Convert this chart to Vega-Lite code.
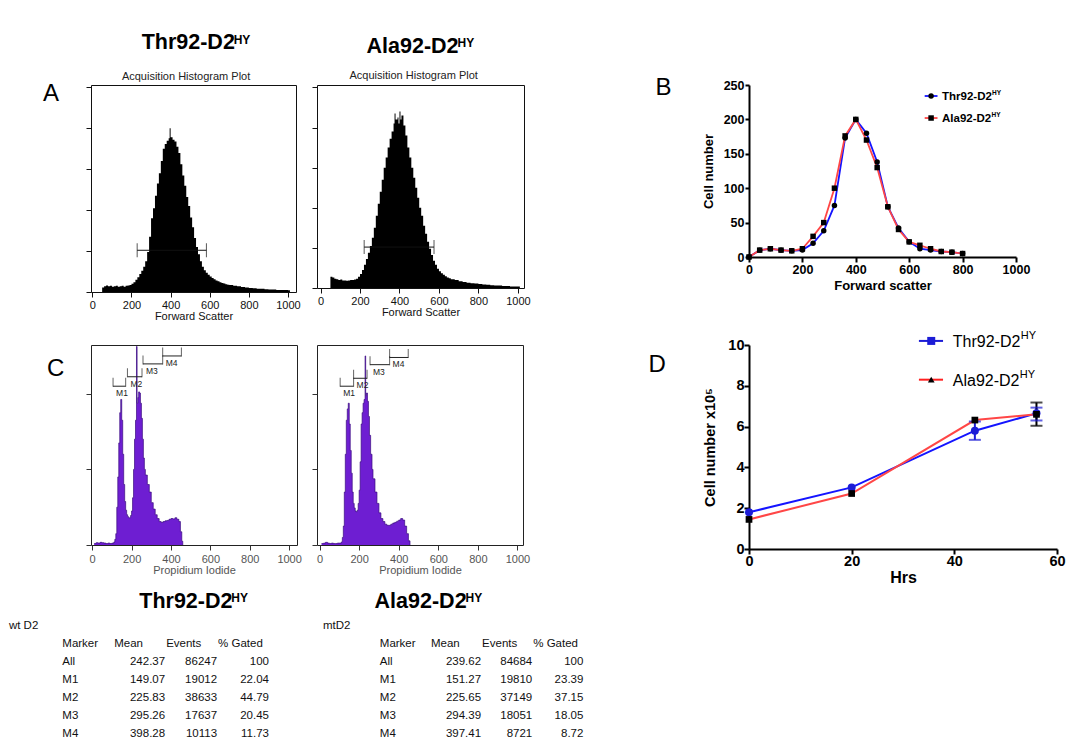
{
  "$schema": "https://vega.github.io/schema/vega-lite/v6.json",
  "background": "white",
  "padding": {"left": 8, "top": 31, "right": 0, "bottom": 0},
  "config": {
    "view": {"stroke": null},
    "font": "Liberation Sans",
    "axis": {"grid": false, "labelOverlap": false}
  },
  "datasets": {
    "hA1": [
      {"x":50,"n":0.11},{"x":60,"n":0.14},{"x":70,"n":0.16},{"x":80,"n":0.14},{"x":90,"n":0.15},{"x":100,"n":0.13},{"x":110,"n":0.14},{"x":120,"n":0.15},{"x":130,"n":0.13},{"x":140,"n":0.14},{"x":150,"n":0.15},{"x":160,"n":0.13},{"x":170,"n":0.15},{"x":180,"n":0.16},{"x":190,"n":0.17},{"x":200,"n":0.2},{"x":210,"n":0.24},{"x":220,"n":0.3},{"x":230,"n":0.36},{"x":240,"n":0.44},{"x":250,"n":0.52},{"x":260,"n":0.62},{"x":270,"n":0.75},{"x":280,"n":0.98},{"x":290,"n":1.35},{"x":300,"n":1.8},{"x":310,"n":2.05},{"x":320,"n":2.35},{"x":330,"n":2.65},{"x":340,"n":2.9},{"x":350,"n":3.2},{"x":360,"n":3.5},{"x":370,"n":3.62},{"x":380,"n":3.7},{"x":390,"n":3.76},{"x":395,"n":4.0},{"x":400,"n":3.78},{"x":410,"n":3.72},{"x":420,"n":3.68},{"x":430,"n":3.55},{"x":440,"n":3.4},{"x":450,"n":3.12},{"x":460,"n":2.85},{"x":470,"n":2.6},{"x":480,"n":2.32},{"x":490,"n":2.1},{"x":500,"n":1.82},{"x":510,"n":1.58},{"x":520,"n":1.32},{"x":530,"n":1.1},{"x":540,"n":0.92},{"x":550,"n":0.75},{"x":560,"n":0.62},{"x":570,"n":0.53},{"x":580,"n":0.47},{"x":590,"n":0.42},{"x":600,"n":0.38},{"x":610,"n":0.34},{"x":620,"n":0.31},{"x":630,"n":0.28},{"x":640,"n":0.26},{"x":650,"n":0.24},{"x":660,"n":0.22},{"x":670,"n":0.21},{"x":680,"n":0.19},{"x":690,"n":0.18},{"x":700,"n":0.17},{"x":720,"n":0.15},{"x":740,"n":0.14},{"x":760,"n":0.12},{"x":780,"n":0.11},{"x":800,"n":0.1},{"x":820,"n":0.09},{"x":840,"n":0.08},{"x":860,"n":0.08},{"x":880,"n":0.07},{"x":900,"n":0.06},{"x":920,"n":0.06},{"x":940,"n":0.05},{"x":960,"n":0.05},{"x":980,"n":0.05},{"x":1000,"n":0.04},{"x":1010,"n":0}
    ],
    "hA2": [
      {"x":50,"n":0.28},{"x":60,"n":0.26},{"x":70,"n":0.23},{"x":80,"n":0.22},{"x":90,"n":0.2},{"x":100,"n":0.21},{"x":110,"n":0.19},{"x":120,"n":0.19},{"x":130,"n":0.18},{"x":140,"n":0.19},{"x":150,"n":0.2},{"x":160,"n":0.2},{"x":170,"n":0.21},{"x":180,"n":0.23},{"x":190,"n":0.28},{"x":200,"n":0.35},{"x":210,"n":0.45},{"x":220,"n":0.58},{"x":230,"n":0.72},{"x":240,"n":0.88},{"x":250,"n":1.05},{"x":260,"n":1.25},{"x":270,"n":1.5},{"x":280,"n":1.8},{"x":290,"n":2.1},{"x":300,"n":2.4},{"x":310,"n":2.7},{"x":320,"n":3.0},{"x":330,"n":3.25},{"x":340,"n":3.5},{"x":350,"n":3.72},{"x":360,"n":3.9},{"x":370,"n":4.1},{"x":375,"n":4.35},{"x":380,"n":4.2},{"x":390,"n":4.25},{"x":395,"n":4.1},{"x":400,"n":4.4},{"x":405,"n":4.2},{"x":410,"n":4.3},{"x":420,"n":4.05},{"x":430,"n":3.8},{"x":440,"n":3.5},{"x":450,"n":3.25},{"x":460,"n":3.0},{"x":470,"n":2.75},{"x":480,"n":2.5},{"x":490,"n":2.25},{"x":500,"n":2.0},{"x":510,"n":1.8},{"x":520,"n":1.55},{"x":530,"n":1.35},{"x":540,"n":1.15},{"x":550,"n":0.98},{"x":560,"n":0.82},{"x":570,"n":0.68},{"x":580,"n":0.58},{"x":590,"n":0.48},{"x":600,"n":0.42},{"x":610,"n":0.37},{"x":620,"n":0.33},{"x":630,"n":0.29},{"x":640,"n":0.26},{"x":650,"n":0.24},{"x":660,"n":0.22},{"x":680,"n":0.2},{"x":700,"n":0.17},{"x":720,"n":0.15},{"x":740,"n":0.13},{"x":760,"n":0.12},{"x":780,"n":0.11},{"x":800,"n":0.1},{"x":820,"n":0.09},{"x":840,"n":0.08},{"x":860,"n":0.07},{"x":880,"n":0.06},{"x":900,"n":0.06},{"x":920,"n":0.05},{"x":940,"n":0.05},{"x":960,"n":0.04},{"x":980,"n":0.04},{"x":1000,"n":0.04},{"x":1010,"n":0}
    ],
    "hC1": [
      {"x":10,"n":0.04},{"x":20,"n":0.06},{"x":30,"n":0.05},{"x":40,"n":0.07},{"x":50,"n":0.06},{"x":60,"n":0.05},{"x":70,"n":0.04},{"x":80,"n":0.05},{"x":90,"n":0.04},{"x":100,"n":0.05},{"x":110,"n":0.08},{"x":115,"n":0.15},{"x":120,"n":0.3},{"x":125,"n":1.0},{"x":130,"n":1.8},{"x":135,"n":2.7},{"x":140,"n":3.5},{"x":145,"n":3.85},{"x":150,"n":3.3},{"x":155,"n":2.4},{"x":160,"n":1.6},{"x":165,"n":1.15},{"x":170,"n":0.92},{"x":175,"n":0.8},{"x":180,"n":0.75},{"x":185,"n":0.72},{"x":190,"n":0.72},{"x":195,"n":0.78},{"x":200,"n":0.9},{"x":205,"n":1.25},{"x":210,"n":2.0},{"x":215,"n":2.8},{"x":220,"n":3.3},{"x":225,"n":5.25},{"x":228,"n":3.75},{"x":232,"n":3.9},{"x":236,"n":4.05},{"x":240,"n":4.02},{"x":245,"n":3.75},{"x":250,"n":3.35},{"x":255,"n":2.8},{"x":260,"n":2.3},{"x":265,"n":2.0},{"x":270,"n":1.85},{"x":280,"n":1.6},{"x":290,"n":1.4},{"x":300,"n":1.12},{"x":310,"n":0.95},{"x":320,"n":0.8},{"x":330,"n":0.7},{"x":340,"n":0.62},{"x":350,"n":0.6},{"x":360,"n":0.62},{"x":370,"n":0.64},{"x":380,"n":0.65},{"x":390,"n":0.68},{"x":400,"n":0.7},{"x":410,"n":0.69},{"x":420,"n":0.72},{"x":430,"n":0.68},{"x":440,"n":0.62},{"x":448,"n":0.35},{"x":455,"n":0.1},{"x":460,"n":0}
    ],
    "hC2": [
      {"x":10,"n":0.04},{"x":20,"n":0.05},{"x":30,"n":0.07},{"x":40,"n":0.05},{"x":50,"n":0.04},{"x":60,"n":0.05},{"x":70,"n":0.04},{"x":80,"n":0.04},{"x":90,"n":0.05},{"x":100,"n":0.05},{"x":110,"n":0.08},{"x":115,"n":0.2},{"x":120,"n":0.5},{"x":125,"n":1.4},{"x":130,"n":2.4},{"x":135,"n":3.3},{"x":140,"n":3.6},{"x":145,"n":3.75},{"x":150,"n":3.2},{"x":155,"n":2.5},{"x":160,"n":1.9},{"x":165,"n":1.4},{"x":170,"n":1.1},{"x":175,"n":0.98},{"x":180,"n":0.9},{"x":185,"n":0.88},{"x":190,"n":0.92},{"x":195,"n":1.1},{"x":200,"n":1.45},{"x":205,"n":2.2},{"x":210,"n":3.2},{"x":215,"n":3.5},{"x":220,"n":3.75},{"x":225,"n":3.85},{"x":230,"n":5.0},{"x":233,"n":3.95},{"x":237,"n":4.02},{"x":242,"n":3.8},{"x":247,"n":3.4},{"x":252,"n":2.9},{"x":258,"n":2.4},{"x":265,"n":2.0},{"x":270,"n":1.75},{"x":280,"n":1.4},{"x":290,"n":1.1},{"x":300,"n":0.85},{"x":310,"n":0.7},{"x":320,"n":0.62},{"x":330,"n":0.55},{"x":340,"n":0.52},{"x":350,"n":0.52},{"x":360,"n":0.55},{"x":370,"n":0.58},{"x":380,"n":0.6},{"x":390,"n":0.63},{"x":400,"n":0.66},{"x":410,"n":0.7},{"x":420,"n":0.66},{"x":430,"n":0.5},{"x":440,"n":0.3},{"x":449,"n":0.11},{"x":457,"n":0}
    ],
    "gA1": [{"lo":229,"hi":583,"lvl":1.02}],
    "gA2": [{"lo":221,"hi":575,"lvl":1.02}],
    "gC1": [
      {"m":"M1","lo":106,"hi":170,"lvl":4.2},{"m":"M2","lo":179,"hi":253,"lvl":4.45},{"m":"M3","lo":258,"hi":358,"lvl":4.79},{"m":"M4","lo":358,"hi":453,"lvl":5.0}
    ],
    "gC2": [
      {"m":"M1","lo":104,"hi":172,"lvl":4.2},{"m":"M2","lo":172,"hi":240,"lvl":4.41},{"m":"M3","lo":255,"hi":354,"lvl":4.77},{"m":"M4","lo":354,"hi":448,"lvl":4.96}
    ],
    "fsc": [
      {"s":"Thr92-D2HY","x":0,"n":0},{"s":"Thr92-D2HY","x":40,"n":10},{"s":"Thr92-D2HY","x":80,"n":12},{"s":"Thr92-D2HY","x":120,"n":10},{"s":"Thr92-D2HY","x":160,"n":9},{"s":"Thr92-D2HY","x":200,"n":10},{"s":"Thr92-D2HY","x":240,"n":20},{"s":"Thr92-D2HY","x":280,"n":38},{"s":"Thr92-D2HY","x":320,"n":75},{"s":"Thr92-D2HY","x":360,"n":173},{"s":"Thr92-D2HY","x":400,"n":200},{"s":"Thr92-D2HY","x":440,"n":180},{"s":"Thr92-D2HY","x":480,"n":138},{"s":"Thr92-D2HY","x":520,"n":73},{"s":"Thr92-D2HY","x":560,"n":42},{"s":"Thr92-D2HY","x":600,"n":22},{"s":"Thr92-D2HY","x":640,"n":12},{"s":"Thr92-D2HY","x":680,"n":10},{"s":"Thr92-D2HY","x":720,"n":8},{"s":"Thr92-D2HY","x":760,"n":7},{"s":"Thr92-D2HY","x":800,"n":5},
      {"s":"Ala92-D2HY","x":0,"n":0},{"s":"Ala92-D2HY","x":40,"n":10},{"s":"Ala92-D2HY","x":80,"n":12},{"s":"Ala92-D2HY","x":120,"n":10},{"s":"Ala92-D2HY","x":160,"n":9},{"s":"Ala92-D2HY","x":200,"n":12},{"s":"Ala92-D2HY","x":240,"n":30},{"s":"Ala92-D2HY","x":280,"n":50},{"s":"Ala92-D2HY","x":320,"n":100},{"s":"Ala92-D2HY","x":360,"n":176},{"s":"Ala92-D2HY","x":400,"n":200},{"s":"Ala92-D2HY","x":440,"n":170},{"s":"Ala92-D2HY","x":480,"n":130},{"s":"Ala92-D2HY","x":520,"n":73},{"s":"Ala92-D2HY","x":560,"n":40},{"s":"Ala92-D2HY","x":600,"n":22},{"s":"Ala92-D2HY","x":640,"n":17},{"s":"Ala92-D2HY","x":680,"n":12},{"s":"Ala92-D2HY","x":720,"n":8},{"s":"Ala92-D2HY","x":760,"n":7},{"s":"Ala92-D2HY","x":800,"n":5}
    ],
    "growth": [
      {"s":"Thr92-D2HY","h":0,"v":1.8},{"s":"Thr92-D2HY","h":20,"v":3.02},{"s":"Thr92-D2HY","h":44,"v":5.8},{"s":"Thr92-D2HY","h":56,"v":6.65},
      {"s":"Ala92-D2HY","h":0,"v":1.45},{"s":"Ala92-D2HY","h":20,"v":2.72},{"s":"Ala92-D2HY","h":44,"v":6.32},{"s":"Ala92-D2HY","h":56,"v":6.6}
    ],
    "err": [
      {"s":"Thr92-D2HY","h":44,"lo":5.35,"hi":6.25},{"s":"Thr92-D2HY","h":56,"lo":6.3,"hi":6.93},{"s":"Ala92-D2HY","h":56,"lo":6.04,"hi":7.18}
    ],
    "wt": [
      {"row":"All","Mean":242.37,"Events":86247,"% Gated":100},
      {"row":"M1","Mean":149.07,"Events":19012,"% Gated":22.04},
      {"row":"M2","Mean":225.83,"Events":38633,"% Gated":44.79},
      {"row":"M3","Mean":295.26,"Events":17637,"% Gated":20.45},
      {"row":"M4","Mean":398.28,"Events":10113,"% Gated":11.73}
    ],
    "mt": [
      {"row":"All","Mean":239.62,"Events":84684,"% Gated":100},
      {"row":"M1","Mean":151.27,"Events":19810,"% Gated":23.39},
      {"row":"M2","Mean":225.65,"Events":37149,"% Gated":37.15},
      {"row":"M3","Mean":294.39,"Events":18051,"% Gated":18.05},
      {"row":"M4","Mean":397.41,"Events":8721,"% Gated":8.72}
    ]
  },
  "columns": 4,
  "align": "each",
  "bounds": "flush",
  "spacing": {"row": 53, "column": 20},
  "concat": [
    {
      "width": 205, "height": 207,
      "view": {"stroke": "#111", "strokeWidth": 1},
      "layer": [
        {"data": {"name": "hA1"}, "mark": {"type": "area", "interpolate": "step-after", "color": "#000", "opacity": 1},
         "encoding": {
           "x": {"field": "x", "type": "quantitative", "scale": {"domain": [-7, 1041], "nice": false, "zero": false},
                 "axis": {"values": [0,50,100,150,200,250,300,350,400,450,500,550,600,650,700,750,800,850,900,950,1000], "format": "d", "labelExpr": "datum.value % 200 === 0 ? datum.label : ''", "tickSize": {"condition": {"test": "datum.value % 200 === 0", "value": 5}, "value": 2.5}, "domain": false, "labelFlush": false, "labelOverlap": false, "labelFontSize": 11, "labelColor": "#111", "tickColor": "#111", "labelPadding": 2, "title": "Forward Scatter", "titleFontSize": 11, "titleFontWeight": "normal", "titleColor": "#111", "titlePadding": 0}},
           "y": {"field": "n", "type": "quantitative", "scale": {"domain": [0, 5.06], "nice": false, "zero": false},
                 "axis": {"values": [0,0.25,0.5,0.75,1,1.25,1.5,1.75,2,2.25,2.5,2.75,3,3.25,3.5,3.75,4,4.25,4.5,4.75,5], "labels": false, "tickSize": {"condition": {"test": "datum.value % 1 === 0", "value": 5}, "value": 2.5}, "domain": false, "title": null, "tickColor": "#111"}}
         }},
        {"data": {"name": "gA1"}, "mark": {"type": "rule", "color": "#111", "strokeWidth": 1},
         "encoding": {"x": {"field": "lo", "type": "quantitative"}, "x2": {"field": "hi"}, "y": {"field": "lvl", "type": "quantitative"}}},
        {"data": {"name": "gA1"}, "mark": {"type": "tick", "orient": "vertical", "size": 14, "thickness": 1, "color": "#111"},
         "encoding": {"x": {"field": "lo", "type": "quantitative"}, "y": {"field": "lvl", "type": "quantitative"}}},
        {"data": {"name": "gA1"}, "mark": {"type": "tick", "orient": "vertical", "size": 14, "thickness": 1, "color": "#111"},
         "encoding": {"x": {"field": "hi", "type": "quantitative"}, "y": {"field": "lvl", "type": "quantitative"}}},
        {"data": {"values": [{}]}, "mark": {"type": "text", "text": "Acquisition Histogram Plot", "fontSize": 11, "align": "center", "baseline": "alphabetic", "color": "#222"},
         "encoding": {"x": {"datum": 479}, "y": {"datum": 5.19}}},
        {"data": {"values": [{}]}, "mark": {"type": "text", "text": "A", "fontSize": 24, "align": "left", "baseline": "alphabetic", "color": "#000"},
         "encoding": {"x": {"datum": -253}, "y": {"datum": 4.66}}},
        {"data": {"values": [{}]}, "mark": {"type": "text", "text": "Thr92-D2", "fontSize": 21.5, "fontWeight": "bold", "align": "left", "baseline": "alphabetic", "color": "#000"},
         "encoding": {"x": {"datum": 252}, "y": {"datum": 5.93}}},
        {"data": {"values": [{}]}, "mark": {"type": "text", "text": "HY", "fontSize": 12, "fontWeight": "bold", "align": "left", "baseline": "alphabetic", "dx": 92, "dy": -5, "color": "#000"},
         "encoding": {"x": {"datum": 252}, "y": {"datum": 5.93}}}
      ]
    },
    {
      "width": 207, "height": 203,
      "view": {"stroke": "#111", "strokeWidth": 1},
      "layer": [
        {"data": {"name": "hA2"}, "mark": {"type": "area", "interpolate": "step-after", "color": "#000", "opacity": 1},
         "encoding": {
           "x": {"field": "x", "type": "quantitative", "scale": {"domain": [-18, 1031], "nice": false, "zero": false},
                 "axis": {"values": [0,50,100,150,200,250,300,350,400,450,500,550,600,650,700,750,800,850,900,950,1000], "format": "d", "labelExpr": "datum.value % 200 === 0 ? datum.label : ''", "tickSize": {"condition": {"test": "datum.value % 200 === 0", "value": 5}, "value": 2.5}, "domain": false, "labelFlush": false, "labelOverlap": false, "labelFontSize": 11, "labelColor": "#111", "tickColor": "#111", "labelPadding": 2, "title": "Forward Scatter", "titleFontSize": 11, "titleFontWeight": "normal", "titleColor": "#111", "titlePadding": 0}},
           "y": {"field": "n", "type": "quantitative", "scale": {"domain": [0, 5.06], "nice": false, "zero": false},
                 "axis": {"values": [0,0.25,0.5,0.75,1,1.25,1.5,1.75,2,2.25,2.5,2.75,3,3.25,3.5,3.75,4,4.25,4.5,4.75,5], "labels": false, "tickSize": {"condition": {"test": "datum.value % 1 === 0", "value": 5}, "value": 2.5}, "domain": false, "title": null, "tickColor": "#111"}}
         }},
        {"data": {"name": "gA2"}, "mark": {"type": "rule", "color": "#111", "strokeWidth": 1},
         "encoding": {"x": {"field": "lo", "type": "quantitative"}, "x2": {"field": "hi"}, "y": {"field": "lvl", "type": "quantitative"}}},
        {"data": {"name": "gA2"}, "mark": {"type": "tick", "orient": "vertical", "size": 14, "thickness": 1, "color": "#111"},
         "encoding": {"x": {"field": "lo", "type": "quantitative"}, "y": {"field": "lvl", "type": "quantitative"}}},
        {"data": {"name": "gA2"}, "mark": {"type": "tick", "orient": "vertical", "size": 14, "thickness": 1, "color": "#111"},
         "encoding": {"x": {"field": "hi", "type": "quantitative"}, "y": {"field": "lvl", "type": "quantitative"}}},
        {"data": {"values": [{}]}, "mark": {"type": "text", "text": "Acquisition Histogram Plot", "fontSize": 11, "align": "center", "baseline": "alphabetic", "color": "#222"},
         "encoding": {"x": {"datum": 472}, "y": {"datum": 5.2}}},
        {"data": {"values": [{}]}, "mark": {"type": "text", "text": "Ala92-D2", "fontSize": 21.5, "fontWeight": "bold", "align": "left", "baseline": "alphabetic", "color": "#000"},
         "encoding": {"x": {"datum": 233}, "y": {"datum": 5.86}}},
        {"data": {"values": [{}]}, "mark": {"type": "text", "text": "HY", "fontSize": 12, "fontWeight": "bold", "align": "left", "baseline": "alphabetic", "dx": 91, "dy": -6, "color": "#000"},
         "encoding": {"x": {"datum": 233}, "y": {"datum": 5.86}}}
      ]
    },
    {"width": 185, "height": 10, "data": {"values": []}, "mark": "point", "encoding": {}},
    {
      "width": 267, "height": 172,
      "layer": [
        {"data": {"name": "fsc"}, "mark": {"type": "line", "strokeWidth": 1.8},
         "encoding": {
           "x": {"field": "x", "type": "quantitative", "scale": {"domain": [0, 1000], "nice": false},
                 "axis": {"values": [0,200,400,600,800,1000], "format": "d", "domainColor": "#000", "domainWidth": 2, "tickColor": "#000", "tickWidth": 2, "tickSize": 5, "labelFontSize": 12.5, "labelFontWeight": "bold", "labelColor": "#000", "labelPadding": 1, "labelFlush": false, "labelOverlap": false, "title": "Forward scatter", "titleFontSize": 13, "titleFontWeight": "bold", "titleColor": "#000", "titlePadding": 4}},
           "y": {"field": "n", "type": "quantitative", "scale": {"domain": [0, 250], "nice": false},
                 "axis": {"values": [0,50,100,150,200,250], "tickCount": 6, "format": "d", "domainColor": "#000", "domainWidth": 2, "tickColor": "#000", "tickWidth": 2, "tickSize": 4, "labelFontSize": 12.5, "labelFontWeight": "bold", "labelColor": "#000", "labelPadding": 1, "labelFlush": false, "labelOverlap": false, "labelSeparation": 0, "title": "Cell number", "titleFontSize": 13, "titleFontWeight": "bold", "titleColor": "#000", "titlePadding": 8}},
           "color": {"field": "s", "type": "nominal", "scale": {"domain": ["Thr92-D2HY", "Ala92-D2HY"], "range": ["#1414ff", "#ff4646"]}, "legend": null}
         }},
        {"data": {"name": "fsc"}, "mark": {"type": "point", "filled": true, "color": "#000", "opacity": 1, "size": 30},
         "encoding": {
           "x": {"field": "x", "type": "quantitative"},
           "y": {"field": "n", "type": "quantitative"},
           "shape": {"field": "s", "type": "nominal", "scale": {"domain": ["Thr92-D2HY", "Ala92-D2HY"], "range": ["circle", "square"]}, "legend": null}
         }},
        {"data": {"values": [{}]}, "mark": {"type": "rule", "color": "#1414ff", "strokeWidth": 1.8},
         "encoding": {"x": {"datum": 658}, "x2": {"datum": 706}, "y": {"datum": 234}}},
        {"data": {"values": [{}]}, "mark": {"type": "point", "shape": "circle", "filled": true, "color": "#000", "opacity": 1, "size": 30},
         "encoding": {"x": {"datum": 682}, "y": {"datum": 234}}},
        {"data": {"values": [{}]}, "mark": {"type": "text", "text": "Thr92-D2", "fontSize": 11.5, "fontWeight": "bold", "align": "left", "baseline": "middle", "dy": 1, "color": "#000"},
         "encoding": {"x": {"datum": 723}, "y": {"datum": 234}}},
        {"data": {"values": [{}]}, "mark": {"type": "text", "text": "HY", "fontSize": 6.5, "fontWeight": "bold", "align": "left", "baseline": "middle", "dx": 50, "dy": -3, "color": "#000"},
         "encoding": {"x": {"datum": 723}, "y": {"datum": 234}}},
        {"data": {"values": [{}]}, "mark": {"type": "rule", "color": "#ff4646", "strokeWidth": 1.8},
         "encoding": {"x": {"datum": 658}, "x2": {"datum": 706}, "y": {"datum": 202}}},
        {"data": {"values": [{}]}, "mark": {"type": "point", "shape": "square", "filled": true, "color": "#000", "opacity": 1, "size": 30},
         "encoding": {"x": {"datum": 682}, "y": {"datum": 202}}},
        {"data": {"values": [{}]}, "mark": {"type": "text", "text": "Ala92-D2", "fontSize": 11.5, "fontWeight": "bold", "align": "left", "baseline": "middle", "dy": 1, "color": "#000"},
         "encoding": {"x": {"datum": 723}, "y": {"datum": 202}}},
        {"data": {"values": [{}]}, "mark": {"type": "text", "text": "HY", "fontSize": 6.5, "fontWeight": "bold", "align": "left", "baseline": "middle", "dx": 49.5, "dy": -3, "color": "#000"},
         "encoding": {"x": {"datum": 723}, "y": {"datum": 202}}},
        {"data": {"values": [{}]}, "mark": {"type": "text", "text": "B", "fontSize": 24, "align": "left", "baseline": "alphabetic", "color": "#000"},
         "encoding": {"x": {"datum": -350}, "y": {"datum": 236}}}
      ]
    },
    {
      "width": 206, "height": 200,
      "view": {"stroke": "#222", "strokeWidth": 1},
      "layer": [
        {"data": {"name": "hC1"}, "mark": {"type": "area", "interpolate": "step-after", "color": "#6e1ed2", "opacity": 1, "line": {"color": "#3a0c80", "strokeWidth": 0.7}},
         "encoding": {
           "x": {"field": "x", "type": "quantitative", "scale": {"domain": [-6, 1040], "nice": false, "zero": false},
                 "axis": {"values": [0,50,100,150,200,250,300,350,400,450,500,550,600,650,700,750,800,850,900,950,1000], "format": "d", "labelExpr": "datum.value % 200 === 0 ? datum.label : ''", "tickSize": {"condition": {"test": "datum.value % 200 === 0", "value": 5}, "value": 2.5}, "domain": false, "labelFlush": false, "labelOverlap": false, "labelFontSize": 11, "labelColor": "#555", "tickColor": "#333", "labelPadding": 3, "title": "Propidium Iodide", "titleFontSize": 11, "titleFontWeight": "normal", "titleColor": "#555", "titlePadding": 0}},
           "y": {"field": "n", "type": "quantitative", "scale": {"domain": [0, 5.29], "nice": false, "zero": false},
                 "axis": {"values": [0,0.25,0.5,0.75,1,1.25,1.5,1.75,2,2.25,2.5,2.75,3,3.25,3.5,3.75,4,4.25,4.5,4.75,5,5.25], "labels": false, "tickSize": {"condition": {"test": "datum.value % 1 === 0", "value": 5}, "value": 2.5}, "domain": false, "title": null, "tickColor": "#333"}}
         }},
        {"data": {"name": "gC1"}, "mark": {"type": "rule", "color": "#222", "strokeWidth": 1},
         "encoding": {"x": {"field": "lo", "type": "quantitative"}, "x2": {"field": "hi"}, "y": {"field": "lvl", "type": "quantitative"}}},
        {"data": {"name": "gC1"}, "mark": {"type": "tick", "orient": "vertical", "size": 9, "thickness": 1, "color": "#222", "yOffset": -4},
         "encoding": {"x": {"field": "lo", "type": "quantitative"}, "y": {"field": "lvl", "type": "quantitative"}}},
        {"data": {"name": "gC1"}, "mark": {"type": "tick", "orient": "vertical", "size": 9, "thickness": 1, "color": "#222", "yOffset": -4},
         "encoding": {"x": {"field": "hi", "type": "quantitative"}, "y": {"field": "lvl", "type": "quantitative"}}},
        {"data": {"name": "gC1"}, "mark": {"type": "text", "fontSize": 8.5, "align": "left", "baseline": "top", "dx": 3, "dy": 3, "color": "#222"},
         "encoding": {"x": {"field": "lo", "type": "quantitative"}, "y": {"field": "lvl", "type": "quantitative"}, "text": {"field": "m"}}},
        {"data": {"values": [{}]}, "mark": {"type": "text", "text": "C", "fontSize": 24, "align": "left", "baseline": "alphabetic", "color": "#000"},
         "encoding": {"x": {"datum": -230}, "y": {"datum": 4.47}}},
        {"data": {"values": [{}]}, "mark": {"type": "text", "text": "Thr92-D2", "fontSize": 21.5, "fontWeight": "bold", "align": "left", "baseline": "alphabetic", "color": "#000"},
         "encoding": {"x": {"datum": 239}, "y": {"datum": -1.67}}},
        {"data": {"values": [{}]}, "mark": {"type": "text", "text": "HY", "fontSize": 12, "fontWeight": "bold", "align": "left", "baseline": "alphabetic", "dx": 92, "dy": -6, "color": "#000"},
         "encoding": {"x": {"datum": 239}, "y": {"datum": -1.67}}}
      ]
    },
    {
      "width": 206, "height": 200,
      "view": {"stroke": "#222", "strokeWidth": 1},
      "layer": [
        {"data": {"name": "hC2"}, "mark": {"type": "area", "interpolate": "step-after", "color": "#6e1ed2", "opacity": 1, "line": {"color": "#3a0c80", "strokeWidth": 0.7}},
         "encoding": {
           "x": {"field": "x", "type": "quantitative", "scale": {"domain": [-13, 1028], "nice": false, "zero": false},
                 "axis": {"values": [0,50,100,150,200,250,300,350,400,450,500,550,600,650,700,750,800,850,900,950,1000], "format": "d", "labelExpr": "datum.value % 200 === 0 ? datum.label : ''", "tickSize": {"condition": {"test": "datum.value % 200 === 0", "value": 5}, "value": 2.5}, "domain": false, "labelFlush": false, "labelOverlap": false, "labelFontSize": 11, "labelColor": "#555", "tickColor": "#333", "labelPadding": 3, "title": "Propidium Iodide", "titleFontSize": 11, "titleFontWeight": "normal", "titleColor": "#555", "titlePadding": 0}},
           "y": {"field": "n", "type": "quantitative", "scale": {"domain": [0, 5.29], "nice": false, "zero": false},
                 "axis": {"values": [0,0.25,0.5,0.75,1,1.25,1.5,1.75,2,2.25,2.5,2.75,3,3.25,3.5,3.75,4,4.25,4.5,4.75,5,5.25], "labels": false, "tickSize": {"condition": {"test": "datum.value % 1 === 0", "value": 5}, "value": 2.5}, "domain": false, "title": null, "tickColor": "#333"}}
         }},
        {"data": {"name": "gC2"}, "mark": {"type": "rule", "color": "#222", "strokeWidth": 1},
         "encoding": {"x": {"field": "lo", "type": "quantitative"}, "x2": {"field": "hi"}, "y": {"field": "lvl", "type": "quantitative"}}},
        {"data": {"name": "gC2"}, "mark": {"type": "tick", "orient": "vertical", "size": 9, "thickness": 1, "color": "#222", "yOffset": -4},
         "encoding": {"x": {"field": "lo", "type": "quantitative"}, "y": {"field": "lvl", "type": "quantitative"}}},
        {"data": {"name": "gC2"}, "mark": {"type": "tick", "orient": "vertical", "size": 9, "thickness": 1, "color": "#222", "yOffset": -4},
         "encoding": {"x": {"field": "hi", "type": "quantitative"}, "y": {"field": "lvl", "type": "quantitative"}}},
        {"data": {"name": "gC2"}, "mark": {"type": "text", "fontSize": 8.5, "align": "left", "baseline": "top", "dx": 3, "dy": 3, "color": "#222"},
         "encoding": {"x": {"field": "lo", "type": "quantitative"}, "y": {"field": "lvl", "type": "quantitative"}, "text": {"field": "m"}}},
        {"data": {"values": [{}]}, "mark": {"type": "text", "text": "Ala92-D2", "fontSize": 21.5, "fontWeight": "bold", "align": "left", "baseline": "alphabetic", "color": "#000"},
         "encoding": {"x": {"datum": 278}, "y": {"datum": -1.67}}},
        {"data": {"values": [{}]}, "mark": {"type": "text", "text": "HY", "fontSize": 12, "fontWeight": "bold", "align": "left", "baseline": "alphabetic", "dx": 91, "dy": -6, "color": "#000"},
         "encoding": {"x": {"datum": 278}, "y": {"datum": -1.67}}}
      ]
    },
    {"width": 185, "height": 10, "data": {"values": []}, "mark": "point", "encoding": {}},
    {
      "width": 308, "height": 204,
      "layer": [
        {"data": {"name": "growth"}, "mark": {"type": "line", "strokeWidth": 2},
         "encoding": {
           "x": {"field": "h", "type": "quantitative", "scale": {"domain": [0, 60], "nice": false},
                 "axis": {"values": [0,20,40,60], "domainColor": "#000", "domainWidth": 2, "tickColor": "#000", "tickWidth": 2, "tickSize": 5, "labelFontSize": 14.5, "labelFontWeight": "bold", "labelColor": "#000", "labelPadding": 0, "labelFlush": false, "labelOverlap": false, "title": "Hrs", "titleFontSize": 16, "titleFontWeight": "bold", "titleColor": "#000", "titlePadding": 2}},
           "y": {"field": "v", "type": "quantitative", "scale": {"domain": [0, 10], "nice": false},
                 "axis": {"values": [0,2,4,6,8,10], "domainColor": "#000", "domainWidth": 2, "tickColor": "#000", "tickWidth": 2, "tickSize": 5, "labelFontSize": 14.5, "labelFontWeight": "bold", "labelColor": "#000", "labelPadding": 0, "labelFlush": false, "labelOverlap": false, "title": "Cell number x10⁵", "titleFontSize": 14.5, "titleFontWeight": "bold", "titleColor": "#000", "titlePadding": 10}},
           "color": {"field": "s", "type": "nominal", "scale": {"domain": ["Thr92-D2HY", "Ala92-D2HY"], "range": ["#1c1cd6", "#ff2020"]}, "legend": null}
         }},
        {"data": {"name": "err"}, "mark": {"type": "rule", "strokeWidth": 2},
         "encoding": {
           "x": {"field": "h", "type": "quantitative"},
           "y": {"field": "lo", "type": "quantitative"},
           "y2": {"field": "hi"},
           "stroke": {"field": "s", "type": "nominal", "scale": {"domain": ["Thr92-D2HY", "Ala92-D2HY"], "range": ["#1c1cd6", "#000000"]}, "legend": null}
         }},
        {"data": {"name": "err"}, "mark": {"type": "tick", "orient": "horizontal", "size": 12, "thickness": 2},
         "encoding": {
           "x": {"field": "h", "type": "quantitative"},
           "y": {"field": "lo", "type": "quantitative"},
           "fill": {"field": "s", "type": "nominal", "scale": {"domain": ["Thr92-D2HY", "Ala92-D2HY"], "range": ["#1c1cd6", "#000000"]}, "legend": null}
         }},
        {"data": {"name": "err"}, "mark": {"type": "tick", "orient": "horizontal", "size": 12, "thickness": 2},
         "encoding": {
           "x": {"field": "h", "type": "quantitative"},
           "y": {"field": "hi", "type": "quantitative"},
           "fill": {"field": "s", "type": "nominal", "scale": {"domain": ["Thr92-D2HY", "Ala92-D2HY"], "range": ["#1c1cd6", "#000000"]}, "legend": null}
         }},
        {"data": {"name": "growth"}, "mark": {"type": "point", "filled": true, "opacity": 1, "strokeWidth": 0},
         "encoding": {
           "x": {"field": "h", "type": "quantitative"},
           "y": {"field": "v", "type": "quantitative"},
           "shape": {"field": "s", "type": "nominal", "scale": {"domain": ["Thr92-D2HY", "Ala92-D2HY"], "range": ["square", "triangle-up"]}, "legend": null},
           "fill": {"field": "s", "type": "nominal", "scale": {"domain": ["Thr92-D2HY", "Ala92-D2HY"], "range": ["#1c1cd6", "#000000"]}, "legend": null},
           "size": {"field": "s", "type": "nominal", "scale": {"domain": ["Thr92-D2HY", "Ala92-D2HY"], "range": [64, 45]}, "legend": null}
         }},
        {"data": {"values": [{}]}, "mark": {"type": "rule", "color": "#1c1cd6", "strokeWidth": 2},
         "encoding": {"x": {"datum": 33.1}, "x2": {"datum": 37.8}, "y": {"datum": 10.2}}},
        {"data": {"values": [{}]}, "mark": {"type": "point", "shape": "square", "filled": true, "color": "#1c1cd6", "opacity": 1, "size": 64},
         "encoding": {"x": {"datum": 35.5}, "y": {"datum": 10.2}}},
        {"data": {"values": [{}]}, "mark": {"type": "text", "text": "Thr92-D2", "fontSize": 16, "align": "left", "baseline": "middle", "dy": 1, "color": "#000"},
         "encoding": {"x": {"datum": 39.7}, "y": {"datum": 10.2}}},
        {"data": {"values": [{}]}, "mark": {"type": "text", "text": "HY", "fontSize": 11, "align": "left", "baseline": "middle", "dx": 68, "dy": -5, "color": "#000"},
         "encoding": {"x": {"datum": 39.7}, "y": {"datum": 10.2}}},
        {"data": {"values": [{}]}, "mark": {"type": "rule", "color": "#ff2020", "strokeWidth": 2},
         "encoding": {"x": {"datum": 33.1}, "x2": {"datum": 37.8}, "y": {"datum": 8.3}}},
        {"data": {"values": [{}]}, "mark": {"type": "point", "shape": "triangle-up", "filled": true, "color": "#000", "opacity": 1, "size": 45},
         "encoding": {"x": {"datum": 35.5}, "y": {"datum": 8.3}}},
        {"data": {"values": [{}]}, "mark": {"type": "text", "text": "Ala92-D2", "fontSize": 16, "align": "left", "baseline": "middle", "dy": 1, "color": "#000"},
         "encoding": {"x": {"datum": 39.7}, "y": {"datum": 8.3}}},
        {"data": {"values": [{}]}, "mark": {"type": "text", "text": "HY", "fontSize": 11, "align": "left", "baseline": "middle", "dx": 67, "dy": -5, "color": "#000"},
         "encoding": {"x": {"datum": 39.7}, "y": {"datum": 8.3}}},
        {"data": {"values": [{}]}, "mark": {"type": "text", "text": "D", "fontSize": 24, "align": "left", "baseline": "alphabetic", "color": "#000"},
         "encoding": {"x": {"datum": -19.6}, "y": {"datum": 8.69}}}
      ]
    },
    {
      "width": 179, "height": 141,
      "layer": [
        {"data": {"name": "wt"}, "transform": [{"fold": ["Mean", "Events", "% Gated"], "as": ["col", "val"]}],
         "mark": {"type": "text", "align": "right", "baseline": "middle", "dx": -1, "fontSize": 11.5, "color": "#111"},
         "encoding": {
           "x": {"field": "col", "type": "nominal", "bandPosition": 1, "scale": {"type": "band", "domain": ["Marker", "Mean", "Events", "% Gated"], "range": [-28.7, 179], "paddingInner": 0, "paddingOuter": 0}, "axis": null},
           "y": {"field": "row", "type": "nominal", "scale": {"type": "band", "domain": ["title", "Marker", "All", "M1", "M2", "M3", "M4"], "range": [15, 141], "paddingInner": 0, "paddingOuter": 0}, "axis": null},
           "text": {"field": "val", "type": "nominal"}
         }},
        {"data": {"name": "wt"},
         "mark": {"type": "text", "align": "left", "baseline": "middle", "fontSize": 11.5, "color": "#111"},
         "encoding": {
           "x": {"datum": "Marker", "bandPosition": 0},
           "y": {"field": "row", "type": "nominal"},
           "text": {"field": "row", "type": "nominal"}
         }},
        {"data": {"values": [{"col": "Marker"}, {"col": "Mean"}, {"col": "Events"}, {"col": "% Gated"}]},
         "mark": {"type": "text", "align": "left", "baseline": "middle", "fontSize": 11.5, "color": "#111"},
         "encoding": {
           "x": {"field": "col", "type": "nominal", "bandPosition": 0},
           "y": {"datum": "Marker"},
           "text": {"field": "col", "type": "nominal"}
         }},
        {"data": {"values": [{}]},
         "mark": {"type": "text", "text": "wt D2", "align": "left", "baseline": "middle", "dx": -53.4, "fontSize": 11.5, "color": "#111"},
         "encoding": {"x": {"datum": "Marker", "bandPosition": 0}, "y": {"datum": "title"}}}
      ]
    },
    {
      "width": 200, "height": 141,
      "layer": [
        {"data": {"name": "mt"}, "transform": [{"fold": ["Mean", "Events", "% Gated"], "as": ["col", "val"]}],
         "mark": {"type": "text", "align": "right", "baseline": "middle", "dx": -1, "fontSize": 11.5, "color": "#111"},
         "encoding": {
           "x": {"field": "col", "type": "nominal", "bandPosition": 1, "scale": {"type": "band", "domain": ["Marker", "Mean", "Events", "% Gated"], "range": [62.8, 267.4], "paddingInner": 0, "paddingOuter": 0}, "axis": null},
           "y": {"field": "row", "type": "nominal", "scale": {"type": "band", "domain": ["title", "Marker", "All", "M1", "M2", "M3", "M4"], "range": [15, 141], "paddingInner": 0, "paddingOuter": 0}, "axis": null},
           "text": {"field": "val", "type": "nominal"}
         }},
        {"data": {"name": "mt"},
         "mark": {"type": "text", "align": "left", "baseline": "middle", "fontSize": 11.5, "color": "#111"},
         "encoding": {
           "x": {"datum": "Marker", "bandPosition": 0},
           "y": {"field": "row", "type": "nominal"},
           "text": {"field": "row", "type": "nominal"}
         }},
        {"data": {"values": [{"col": "Marker"}, {"col": "Mean"}, {"col": "Events"}, {"col": "% Gated"}]},
         "mark": {"type": "text", "align": "left", "baseline": "middle", "fontSize": 11.5, "color": "#111"},
         "encoding": {
           "x": {"field": "col", "type": "nominal", "bandPosition": 0},
           "y": {"datum": "Marker"},
           "text": {"field": "col", "type": "nominal"}
         }},
        {"data": {"values": [{}]},
         "mark": {"type": "text", "text": "mtD2", "align": "left", "baseline": "middle", "dx": -56.8, "fontSize": 11.5, "color": "#111"},
         "encoding": {"x": {"datum": "Marker", "bandPosition": 0}, "y": {"datum": "title"}}}
      ]
    }
  ]
}
